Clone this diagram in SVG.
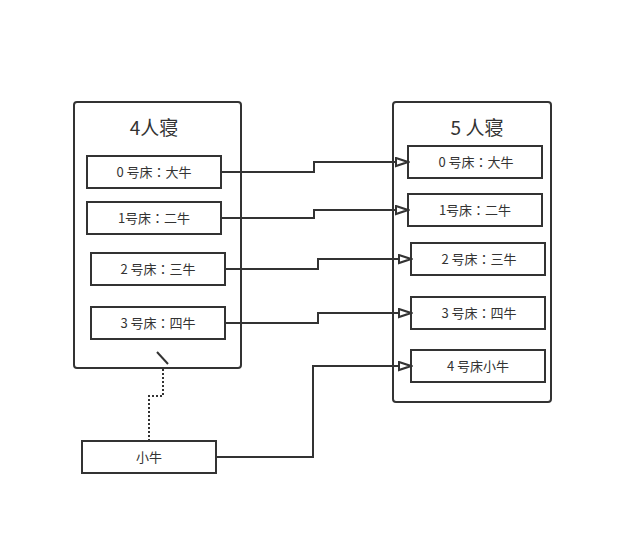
<svg xmlns="http://www.w3.org/2000/svg" width="617" height="535" viewBox="0 0 617 535">
<style>
.c{fill:#fff;stroke:#333;stroke-width:2}
.b{fill:#fff;stroke:#333;stroke-width:2}
.t{font-family:"Noto Sans CJK SC","Noto Sans",sans-serif;font-size:13px;fill:#333;text-anchor:middle;dominant-baseline:central}
.k{font-family:"Noto Sans CJK JP","Noto Sans CJK TC",sans-serif}
.h{font-family:"Noto Sans CJK SC","Noto Sans",sans-serif;font-size:19px;fill:#333;text-anchor:middle;dominant-baseline:central}
.e{fill:none;stroke:#333;stroke-width:2}
.d{fill:none;stroke:#333;stroke-width:2;stroke-dasharray:2 2}
</style>
<defs>
<marker id="tri" markerWidth="15" markerHeight="11" refX="13" refY="5.5" orient="auto" markerUnits="userSpaceOnUse">
<path d="M1,1.5 L13,5.5 L1,9.5 Z" fill="#fff" stroke="#333" stroke-width="2"/>
</marker>
</defs>
<rect width="617" height="535" fill="#fff"/>
<g id="room4">
<rect class="c" x="74" y="102" width="167" height="266" rx="3"/>
<text class="h" x="154" y="126">4人寝</text>
</g>
<g id="room5">
<rect class="c" x="393" y="102" width="158" height="300" rx="3"/>
<text class="h" x="477" y="126">5 人寝</text>
</g>
<g id="l0"><rect class="b" x="87" y="156" width="134" height="32"/><text class="t" x="154" y="171">0 号床<tspan class="k">：</tspan>大牛</text></g>
<g id="l1"><rect class="b" x="87" y="202" width="134" height="32"/><text class="t" x="154" y="217">1号床<tspan class="k">：</tspan>二牛</text></g>
<g id="l2"><rect class="b" x="91" y="253" width="134" height="32"/><text class="t" x="158" y="268">2 号床<tspan class="k">：</tspan>三牛</text></g>
<g id="l3"><rect class="b" x="91" y="307" width="134" height="32"/><text class="t" x="158" y="322">3 号床<tspan class="k">：</tspan>四牛</text></g>
<g id="r0"><rect class="b" x="408" y="146" width="134" height="32"/><text class="t" x="476" y="161">0 号床<tspan class="k">：</tspan>大牛</text></g>
<g id="r1"><rect class="b" x="408" y="194" width="134" height="32"/><text class="t" x="475" y="209">1号床<tspan class="k">：</tspan>二牛</text></g>
<g id="r2"><rect class="b" x="411" y="243" width="134" height="32"/><text class="t" x="479" y="258">2 号床<tspan class="k">：</tspan>三牛</text></g>
<g id="r3"><rect class="b" x="411" y="297" width="134" height="32"/><text class="t" x="479" y="312">3 号床<tspan class="k">：</tspan>四牛</text></g>
<g id="r4"><rect class="b" x="411" y="350" width="134" height="32"/><text class="t" x="478" y="365">4 号床小牛</text></g>
<g id="xiaoniu"><rect class="b" x="82" y="441" width="134" height="32"/><text class="t" x="149" y="456">小牛</text></g>
<g id="connectors">
<path class="e" d="M221,172 H314 V162 H408" marker-end="url(#tri)"/>
<path class="e" d="M221,218 H314 V210 H408" marker-end="url(#tri)"/>
<path class="e" d="M225,269 H318 V259 H411" marker-end="url(#tri)"/>
<path class="e" d="M225,323 H318 V313 H411" marker-end="url(#tri)"/>
<path class="e" d="M216,457 H313 V366 H411" marker-end="url(#tri)"/>
<path class="d" d="M149,441 V396 H163 V368"/>
<path class="e" d="M157,352 L168,364"/>
</g>
</svg>
